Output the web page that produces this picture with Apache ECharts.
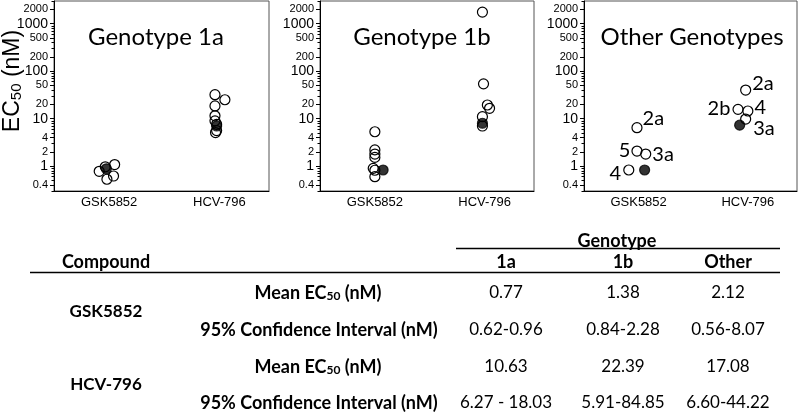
<!DOCTYPE html>
<html><head><meta charset="utf-8">
<script src="https://cdn.jsdelivr.net/npm/echarts@6/dist/echarts.min.js"></script>
<style>html,body{margin:0;padding:0;background:#fff}#c{width:800px;height:413px}</style>
</head><body><div id="c"></div>
<script>
// ---------- data ----------
const compounds = ['GSK5852', 'HCV-796'];
const panelTitles = ['Genotype 1a', 'Genotype 1b', 'Other Genotypes'];
const yTickValues = [0.4, 1, 2, 4, 10, 20, 50, 100, 200, 500, 1000, 2000];
const yBigTicks = [1, 10, 100, 1000];
// [x position (1 = GSK5852, 3 = HCV-796, with jitter), EC50 nM]
const g1aOpen = [[1.1, 1.08], [0.82, 0.78], [1.08, 0.62], [0.96, 0.53], [0.93, 0.97],
                 [2.92, 32], [3.1, 25], [2.92, 18.5], [2.92, 11.5], [2.92, 9], [2.95, 7.6], [2.95, 5.6], [2.93, 5.1]];
const g1aFilled = [[0.95, 0.88], [2.95, 7.0]];
const g1bOpen = [[1.0, 5.3], [1.0, 2.2], [1.0, 1.8], [1.0, 1.53], [0.97, 0.9], [1.0, 0.82], [1.0, 0.6],
                 [2.96, 1750], [2.98, 54], [3.05, 19.4], [3.09, 16.5], [2.96, 11], [2.96, 7.0]];
const g1bFilled = [[1.15, 0.83], [2.96, 8.0]];
const otherOpen = [[0.97, 6.45], [0.97, 2.08], [1.13, 1.8], [0.82, 0.83],
                   [2.96, 40], [2.82, 15.7], [3.0, 14.5], [2.96, 9.8]];
const otherOpenLabels = ['2a', '5', '3a', '4', '2a', '2b', '4', '3a'];
const otherFilled = [[1.11, 0.83], [2.85, 7.3]];
// table
const tableGenotypes = ['1a', '1b', 'Other'];
const tableCompounds = ['GSK5852', 'HCV-796'];
const gskMean = ['0.77', '1.38', '2.12'];
const gskCI = ['0.62-0.96', '0.84-2.28', '0.56-8.07'];
const hcvMean = ['10.63', '22.39', '17.08'];
const hcvCI = ['6.27 - 18.03', '5.91-84.85', '6.60-44.22'];

// ---------- layout / style ----------
const grids = [{left: 54, width: 215}, {left: 320, width: 214}, {left: 584, width: 213}];
const minorTicks = [];
[0.1, 1, 10, 100, 1000].forEach(d => { for (let k = 1; k <= 9; k++) { const v = +(d * k).toPrecision(3); if (v >= 0.3 && v <= 3000) minorTicks.push(v); } });
const axisFont = 'Liberation Sans, Arial, sans-serif';
const calFont = 'Lato, "Open Sans", sans-serif';
// label placement for the "other genotypes" panel, by point index
const labelPlace = [
  {position: 'right', distance: 0, offset: [0, -9]},
  {position: 'left', distance: 1, offset: [0, -1]},
  {position: 'right', distance: 1, offset: [0, 1]},
  {position: 'left', distance: 2, offset: [0, 4]},
  {position: 'right', distance: 1, offset: [0, -7]},
  {position: 'left', distance: 2, offset: [0, -1]},
  {position: 'right', distance: 1, offset: [0, -3]},
  {position: 'right', distance: 2, offset: [0, 9]}
];

const chart = echarts.init(document.getElementById('c'), null, {renderer: 'canvas'});
const option = {
  animation: false,
  backgroundColor: '#fff',
  grid: grids.map(g => ({left: g.left, width: g.width, top: 1, height: 190, show: true, borderColor: '#555', borderWidth: 1, backgroundColor: 'transparent'})),
  xAxis: grids.map((g, i) => ({
    type: 'value', gridIndex: i, min: 0, max: 3.9,
    axisLine: {show: true, onZero: false, lineStyle: {color: '#000', width: 1}},
    axisTick: {show: false}, splitLine: {show: false},
    axisLabel: {customValues: [1, 3], formatter: v => compounds[v < 2 ? 0 : 1], color: '#000', fontSize: 13, fontFamily: axisFont, margin: 5}
  })),
  yAxis: grids.map((g, i) => ({
    type: 'log', logBase: 10, gridIndex: i, min: 0.3, max: 3000, position: 'left',
    axisLine: {show: true, onZero: false, lineStyle: {color: '#000', width: 1}},
    axisTick: {show: true, customValues: yTickValues, length: 4, lineStyle: {color: '#000'}},
    splitLine: {show: false},
    axisLabel: {
      customValues: yTickValues, margin: 6, color: '#000', fontFamily: axisFont,
      formatter: v => (yBigTicks.indexOf(v) >= 0 ? '{b|' + v + '}' : '{s|' + v + '}'),
      rich: {s: {fontSize: 11, fontFamily: axisFont, color: '#000'}, b: {fontSize: 14, fontFamily: axisFont, color: '#000'}}
    }
  })).concat(grids.map((g, i) => ({
    type: 'log', logBase: 10, gridIndex: i, min: 0.3, max: 3000, position: 'left',
    axisLine: {show: false}, splitLine: {show: false}, axisLabel: {show: false},
    axisTick: {show: true, customValues: minorTicks, length: 2.5, lineStyle: {color: '#000'}}
  }))),
  series: [],
  graphic: []
};

const openStyle = {color: 'rgba(255,255,255,0)', borderColor: '#000', borderWidth: 1.2, opacity: 1};
const filledStyle = {color: '#000', borderColor: '#000', borderWidth: 1.2};
const seriesLabel = {color: '#000', fontSize: 20, fontFamily: calFont, opacity: 1, textBorderWidth: 0, textShadowBlur: 0};
[[g1aOpen, g1aFilled], [g1bOpen, g1bFilled], [otherOpen, otherFilled]].forEach((pair, i) => {
  const openData = pair[0].map((d, j) => {
    const item = {value: d};
    if (i === 2) {
      item.label = Object.assign({show: true, formatter: otherOpenLabels[j]}, seriesLabel, labelPlace[j]);
    }
    return item;
  });
  option.series.push({type: 'scatter', xAxisIndex: i, yAxisIndex: i, symbol: 'circle', symbolSize: 10, itemStyle: openStyle,
    label: Object.assign({show: false}, seriesLabel), data: openData, z: 3});
  option.series.push({type: 'scatter', xAxisIndex: i, yAxisIndex: i, symbol: 'circle', symbolSize: 10, itemStyle: filledStyle, data: pair[1], z: 4});
});

function txt(x, y, text, opts) {
  opts = opts || {};
  return {
    type: 'text', x: x, y: y, rotation: opts.rotation || 0, z: 10,
    style: Object.assign({
      text: text, fill: '#000', font: (opts.bold ? 'bold ' : '') + (opts.size || 18) + 'px ' + (opts.family || calFont),
      textAlign: 'center', textVerticalAlign: 'middle', align: 'center', verticalAlign: 'middle'
    }, opts.style || {})
  };
}
function line(x1, y1, x2, y2) {
  return {type: 'line', shape: {x1: x1, y1: y1, x2: x2, y2: y2}, style: {stroke: '#000', lineWidth: 1.5}, z: 10};
}
const G = option.graphic;
// panel titles
G.push(txt(156, 37, panelTitles[0], {size: 24}));
G.push(txt(422, 37, panelTitles[1], {size: 24}));
G.push(txt(692, 37, panelTitles[2], {size: 24}));
// y axis name
G.push(txt(13, 81, 'EC{sub|50} (nM)', {size: 23, family: axisFont, rotation: Math.PI / 2,
  style: {rich: {sub: {fontSize: 15, fontFamily: axisFont, fill: '#000', verticalAlign: 'bottom', padding: [8, 0, 0, 0]}}}}));
// table
const colX = [506, 623, 728];
const TS = 18;   // header / row label text
const VS = 17;   // numeric values
G.push(txt(617, 241, 'Genotype', {bold: true, size: TS}));
G.push(line(456, 248.5, 780, 248.5));
G.push(txt(106, 262, 'Compound', {bold: true, size: TS}));
tableGenotypes.forEach((t, j) => G.push(txt(colX[j], 262, t, {bold: true, size: TS})));
G.push(line(30, 272.5, 780, 272.5));
const subRich = {rich: {sub: {fontSize: 12, fontWeight: 'bold', fontFamily: calFont, fill: '#000', verticalAlign: 'bottom', padding: [7, 0, 0, 0]}}};
[[gskMean, gskCI, 293, 330, 312], [hcvMean, hcvCI, 367, 403, 385]].forEach((blk, b) => {
  G.push(txt(106, blk[4], tableCompounds[b], {bold: true, size: 17}));
  G.push(txt(318, blk[2], 'Mean EC{sub|50} (nM)', {bold: true, size: TS, style: subRich}));
  G.push(txt(319, blk[3], '95% Confidence Interval (nM)', {bold: true, size: TS}));
  blk[0].forEach((v, j) => G.push(txt(colX[j], blk[2], v, {size: VS})));
  blk[1].forEach((v, j) => G.push(txt(colX[j], blk[3], v, {size: VS})));
});

chart.setOption(option);
</script></body></html>
